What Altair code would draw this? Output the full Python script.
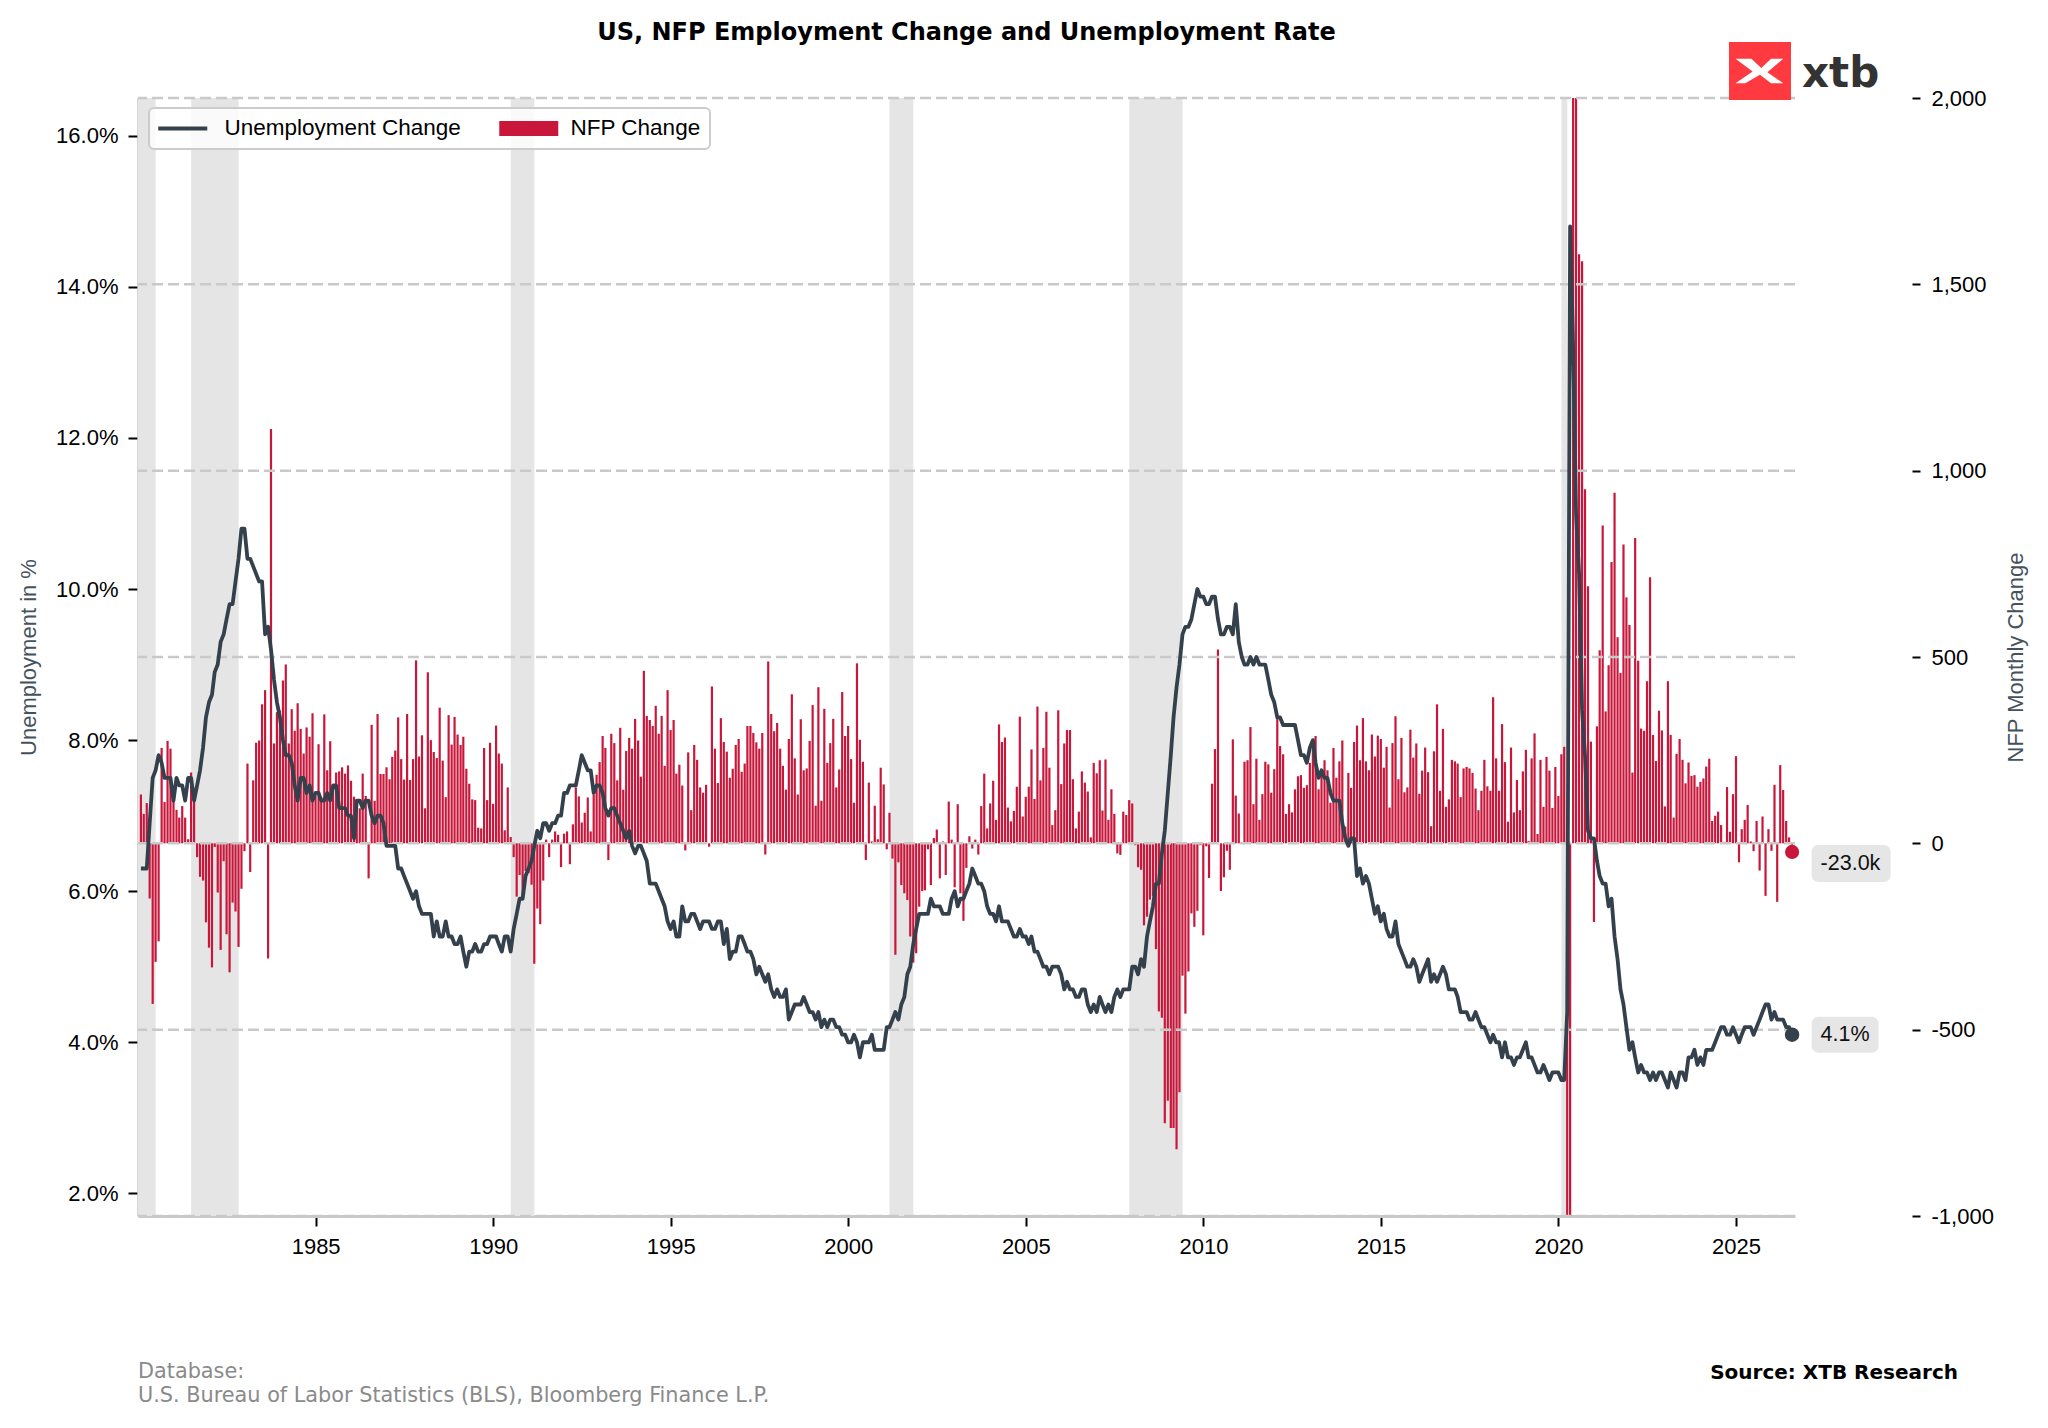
import altair as alt
import pandas as pd

# ---------------- data (monthly, Jan 1980 - Jul 2026) ----------------
# US unemployment rate, %
ur_1980s = [
    6.3, 6.3, 6.3, 6.9, 7.5, 7.6, 7.8, 7.7, 7.5, 7.5, 7.5, 7.2,
    7.5, 7.4, 7.4, 7.2, 7.5, 7.5, 7.2, 7.4, 7.6, 7.9, 8.3, 8.5,
    8.6, 8.9, 9.0, 9.3, 9.4, 9.6, 9.8, 9.8, 10.1, 10.4, 10.8, 10.8,
    10.4, 10.4, 10.3, 10.2, 10.1, 10.1, 9.4, 9.5, 9.2, 8.8, 8.5, 8.3,
    8.0, 7.8, 7.8, 7.7, 7.4, 7.2, 7.5, 7.5, 7.3, 7.4, 7.2, 7.3,
    7.3, 7.2, 7.2, 7.3, 7.2, 7.4, 7.4, 7.1, 7.1, 7.1, 7.0, 7.0,
    6.7, 7.2, 7.2, 7.1, 7.2, 7.2, 7.0, 6.9, 7.0, 7.0, 6.9, 6.6,
    6.6, 6.6, 6.6, 6.3, 6.3, 6.2, 6.1, 6.0, 5.9, 6.0, 5.8, 5.7,
    5.7, 5.7, 5.7, 5.4, 5.6, 5.4, 5.4, 5.6, 5.4, 5.4, 5.3, 5.3,
    5.4, 5.2, 5.0, 5.2, 5.2, 5.3, 5.2, 5.2, 5.3, 5.3, 5.4, 5.4,
]
ur_1990s = [
    5.4, 5.3, 5.2, 5.4, 5.4, 5.2, 5.5, 5.7, 5.9, 5.9, 6.2, 6.3,
    6.4, 6.6, 6.8, 6.7, 6.9, 6.9, 6.8, 6.9, 6.9, 7.0, 7.0, 7.3,
    7.3, 7.4, 7.4, 7.4, 7.6, 7.8, 7.7, 7.6, 7.6, 7.3, 7.4, 7.4,
    7.3, 7.1, 7.0, 7.1, 7.1, 7.0, 6.9, 6.8, 6.7, 6.8, 6.6, 6.5,
    6.6, 6.6, 6.5, 6.4, 6.1, 6.1, 6.1, 6.0, 5.9, 5.8, 5.6, 5.5,
    5.6, 5.4, 5.4, 5.8, 5.6, 5.6, 5.7, 5.7, 5.6, 5.5, 5.6, 5.6,
    5.6, 5.5, 5.5, 5.6, 5.6, 5.3, 5.5, 5.1, 5.2, 5.2, 5.4, 5.4,
    5.3, 5.2, 5.2, 5.1, 4.9, 5.0, 4.9, 4.8, 4.9, 4.7, 4.6, 4.7,
    4.6, 4.6, 4.7, 4.3, 4.4, 4.5, 4.5, 4.5, 4.6, 4.5, 4.4, 4.4,
    4.3, 4.4, 4.2, 4.3, 4.2, 4.3, 4.3, 4.2, 4.2, 4.1, 4.1, 4.0,
]
ur_2000s = [
    4.0, 4.1, 4.0, 3.8, 4.0, 4.0, 4.0, 4.1, 3.9, 3.9, 3.9, 3.9,
    4.2, 4.2, 4.3, 4.4, 4.3, 4.5, 4.6, 4.9, 5.0, 5.3, 5.5, 5.7,
    5.7, 5.7, 5.7, 5.9, 5.8, 5.8, 5.8, 5.7, 5.7, 5.7, 5.9, 6.0,
    5.8, 5.9, 5.9, 6.0, 6.1, 6.3, 6.2, 6.1, 6.1, 6.0, 5.8, 5.7,
    5.7, 5.6, 5.8, 5.6, 5.6, 5.6, 5.5, 5.4, 5.4, 5.5, 5.4, 5.4,
    5.3, 5.4, 5.2, 5.2, 5.1, 5.0, 5.0, 4.9, 5.0, 5.0, 5.0, 4.9,
    4.7, 4.8, 4.7, 4.7, 4.6, 4.6, 4.7, 4.7, 4.5, 4.4, 4.5, 4.4,
    4.6, 4.5, 4.4, 4.5, 4.4, 4.6, 4.7, 4.6, 4.7, 4.7, 4.7, 5.0,
    5.0, 4.9, 5.1, 5.0, 5.4, 5.6, 5.8, 6.1, 6.1, 6.5, 6.8, 7.3,
    7.8, 8.3, 8.7, 9.0, 9.4, 9.5, 9.5, 9.6, 9.8, 10.0, 9.9, 9.9,
]
ur_2010s = [
    9.8, 9.8, 9.9, 9.9, 9.6, 9.4, 9.4, 9.5, 9.5, 9.4, 9.8, 9.3,
    9.1, 9.0, 9.0, 9.1, 9.0, 9.1, 9.0, 9.0, 9.0, 8.8, 8.6, 8.5,
    8.3, 8.3, 8.2, 8.2, 8.2, 8.2, 8.2, 8.0, 7.8, 7.8, 7.7, 7.9,
    8.0, 7.7, 7.5, 7.6, 7.5, 7.5, 7.3, 7.2, 7.2, 7.2, 6.9, 6.7,
    6.6, 6.7, 6.7, 6.2, 6.3, 6.1, 6.2, 6.1, 5.9, 5.7, 5.8, 5.6,
    5.7, 5.5, 5.4, 5.4, 5.6, 5.3, 5.2, 5.1, 5.0, 5.0, 5.1, 5.0,
    4.8, 4.9, 5.0, 5.1, 4.8, 4.9, 4.8, 4.9, 5.0, 4.9, 4.7, 4.7,
    4.7, 4.6, 4.4, 4.4, 4.4, 4.3, 4.3, 4.4, 4.3, 4.2, 4.2, 4.1,
    4.0, 4.1, 4.0, 4.0, 3.8, 4.0, 3.8, 3.8, 3.7, 3.8, 3.8, 3.9,
    4.0, 3.8, 3.8, 3.7, 3.6, 3.6, 3.7, 3.6, 3.5, 3.6, 3.6, 3.6,
]
ur_2020s = [
    3.5, 3.5, 4.4, 14.8, 13.2, 11.0, 10.2, 8.4, 7.8, 6.8, 6.7, 6.7,
    6.4, 6.2, 6.1, 6.1, 5.8, 5.9, 5.4, 5.1, 4.7, 4.5, 4.2, 3.9,
    4.0, 3.8, 3.6, 3.7, 3.6, 3.6, 3.5, 3.6, 3.5, 3.6, 3.6, 3.5,
    3.4, 3.6, 3.5, 3.4, 3.6, 3.6, 3.5, 3.8, 3.8, 3.9, 3.7, 3.8,
    3.7, 3.9, 3.9, 3.9, 4.0, 4.1, 4.2, 4.2, 4.1, 4.1, 4.2, 4.1,
    4.0, 4.1, 4.2, 4.2, 4.2, 4.1, 4.2, 4.3, 4.4, 4.5, 4.5, 4.3,
    4.4, 4.3, 4.3, 4.3, 4.2, 4.2, 4.1,
]

# Non-farm payrolls, monthly change, thousands
nfp_1980s = [
    131, 79, 108, -148, -431, -318, -263, 256, 111, 275, 254, 138,
    90, 69, 100, 69, 11, 190, 112, -37, -90, -100, -212, -280,
    -333, -10, -132, -286, -48, -244, -346, -159, -183, -278, -122, -21,
    214, -77, 169, 270, 276, 373, 411, -309, 1112, 268, 352, 356,
    437, 480, 268, 360, 302, 376, 307, 241, 311, 286, 349, 127,
    266, 124, 346, 196, 274, 146, 190, 193, 204, 187, 209, 168,
    125, 107, 94, 187, 127, -94, 318, 114, 347, 186, 186, 204,
    172, 232, 249, 338, 226, 171, 347, 170, 226, 491, 233, 290,
    94, 459, 277, 245, 229, 364, 222, 124, 344, 265, 339, 292,
    264, 286, 200, 160, 118, 116, 42, 40, 256, 116, 270, 106,
]
nfp_1990s = [
    316, 241, 214, 35, 150, 17, -37, -143, -85, -148, -74, -80,
    -111, -323, -175, -217, -100, 10, -37, 10, 32, 23, -64, 26,
    32, -56, 51, 150, 126, 56, 82, 123, 32, 130, 184, 218,
    288, 256, -45, 294, 269, 169, 310, 144, 248, 283, 254, 334,
    276, 179, 463, 342, 331, 315, 369, 294, 342, 208, 411, 304,
    331, 187, 211, 155, -19, 244, 89, 264, 224, 150, 136, 157,
    -9, 421, 254, 162, 336, 272, 246, 176, 200, 264, 280, 192,
    214, 315, 315, 296, 271, 254, 296, -30, 488, 347, 301, 323,
    254, 208, 144, 280, 400, 228, 131, 333, 196, 201, 275, 371,
    101, 419, 114, 361, 216, 269, 334, 150, 198, 406, 288, 315,
]
nfp_2000s = [
    226, 109, 483, 278, 219, -45, 163, 5, 101, 11, 203, 158,
    -16, 82, -41, -299, -51, -112, -134, -152, -250, -320, -295, -170,
    -128, -126, -16, -112, 14, 37, -94, 5, -85, 112, 10, -118,
    105, -134, -208, -66, 19, -14, 10, -30, 100, 187, 40, 107,
    168, 63, 319, 272, 284, 96, 59, 87, 152, 340, 72, 125,
    152, 252, 119, 367, 169, 256, 353, 203, 49, 89, 357, 159,
    268, 304, 304, 172, 40, 85, 193, 163, 139, 16, 216, 188,
    223, 88, 225, 63, 145, 79, -27, -31, 85, 76, 116, 107,
    -5, -64, -71, -220, -197, -151, -141, -284, -451, -468, -751, -691,
    -764, -764, -821, -668, -355, -457, -344, -188, -224, -181, -5, -247,
]
nfp_2010s = [
    -8, -93, 160, 253, 520, -128, -91, -20, -71, 279, 128, 80,
    3, 219, 223, 312, 105, 227, 63, 132, 219, 212, 136, 199,
    336, 261, 239, 79, 105, 83, 145, 180, 183, 149, 156, 216,
    276, 288, 145, 183, 223, 196, 109, 256, 176, 220, 276, 45,
    189, 149, 272, 316, 223, 336, 220, 196, 292, 233, 289, 280,
    203, 259, 96, 269, 341, 172, 283, 137, 150, 305, 230, 268,
    133, 195, 257, 191, 46, 247, 373, 141, 307, 98, 118, 224,
    220, 214, 124, 201, 205, 201, 189, 147, 89, 141, 224, 153,
    141, 392, 228, 141, 320, 218, 58, 257, 83, 170, 89, 193,
    251, 6, 228, 295, 25, 224, 98, 232, 195, 95, 205, 127,
]
nfp_2020s = [
    239, 259, -1373, -20477, 2725, 4781, 1581, 1562, 950, 690, 273, -211,
    314, 518, 853, 354, 478, 755, 941, 553, 457, 802, 660, 586,
    190, 819, 490, 308, 302, 435, 714, 291, 221, 356, 303, 99,
    435, 291, 69, 240, 280, 224, 161, 217, 181, 183, 152, 165,
    174, 206, 227, 60, 74, 85, 49, 4, 151, 31, 132, 234,
    -51, 38, 63, 103, 5, -21, 60, -73, 72, -141, 38, -20,
    157, -157, 210, 143, 60, 16, -23,
]

# NBER recessions (shaded)
recession_start = ["1980-01-01", "1981-07-01", "1990-07-01", "2001-03-01", "2007-12-01", "2020-02-01"]
recession_end = ["1980-07-01", "1982-11-01", "1991-03-01", "2001-11-01", "2009-06-01", "2020-04-01"]

ur_ticks = [2, 4, 6, 8, 10, 12, 14, 16]
nfp_ticks = [-1000, -500, 0, 500, 1000, 1500, 2000]
year_ticks = [1985, 1990, 1995, 2000, 2005, 2010, 2015, 2020, 2025]
legend_labels = ["Unemployment Change", "NFP Change"]

TITLE = "US, NFP Employment Change and Unemployment Rate"
FOOT1 = "Database:"
FOOT2 = "U.S. Bureau of Labor Statistics (BLS), Bloomberg Finance L.P."
SOURCE = "Source: XTB Research"

# ---------------- styling ----------------
RED = "#c8173b"
LINE = "#34414d"
BAND = "#e5e5e5"
GRID = "#c9c9c9"
AXT = "#44525e"
FONT = "Liberation Sans"
BFONT = "DejaVu Sans"
W, H = 1657, 1118

ur = ur_1980s + ur_1990s + ur_2000s + ur_2010s + ur_2020s
nfp = nfp_1980s + nfp_1990s + nfp_2000s + nfp_2010s + nfp_2020s
n = min(len(ur), len(nfp))
ur, nfp = ur[:n], nfp[:n]
dates = [
    (pd.Timestamp(1980, 1, 1) + pd.DateOffset(months=i) + pd.offsets.MonthEnd(0)).strftime("%Y-%m-%dT00:00:00")
    for i in range(n)
]
df = pd.DataFrame({"date": dates, "ur": ur, "nfp": nfp})
last = df.iloc[[-1]].copy()
last["nfp_label"] = f"{nfp[-1]:.1f}k"
last["ur_label"] = f"{ur[-1]:.1f}%"

bands_df = pd.DataFrame({
    "start": [s + "T00:00:00" for s in recession_start],
    "end": [e + "T00:00:00" for e in recession_end],
})
grid_df = pd.DataFrame({"v": nfp_ticks})
legend_df = pd.DataFrame({"series": legend_labels})
one = pd.DataFrame({"k": [0]})

# ---------------- scales & axes ----------------
x_scale = alt.Scale(domain=[alt.DateTime(year=1980, month=1, date=1),
                            alt.DateTime(year=2026, month=8, date=30)], nice=False, padding=0)
x_axis = alt.Axis(values=[alt.DateTime(year=y, month=1, date=1) for y in year_ticks],
                  format="%Y", title=None, grid=False,
                  labelFont=FONT, labelFontSize=22, labelColor="#000000", labelPadding=10,
                  labelOverlap=False, labelFlush=False,
                  tickSize=10, tickWidth=2, tickColor="#000000",
                  domainColor="#c8c8c8", domainWidth=3)
X = alt.X("date:T", scale=x_scale, axis=x_axis)

ur_scale = alt.Scale(domain=[1.7, 16.5], nice=False, zero=False)
ur_axis = alt.Axis(orient="left", values=ur_ticks, grid=False,
                   labelExpr="format(datum.value, '.1f') + '%'",
                   labelFont=FONT, labelFontSize=22, labelColor="#000000", labelPadding=10,
                   tickSize=10, tickWidth=2, tickColor="#000000",
                   domainColor="#c8c8c8", domainWidth=2.5,
                   title="Unemployment in %", titleFont=FONT, titleFontSize=22,
                   titleFontWeight="normal", titleColor=AXT, titleAngle=270,
                   titleX=-109.5, titleY=H / 2, titleAlign="center", titleBaseline="middle")
Y_UR = alt.Y("ur:Q", scale=ur_scale, axis=ur_axis)

nfp_scale = alt.Scale(domain=[-1000, 2000], nice=False, zero=False)
nfp_axis = alt.Axis(orient="right", offset=117, values=nfp_ticks, grid=False, domain=False,
                    labelExpr="replace(format(datum.value, ','), '\u2212', '-')",
                    labelFont=FONT, labelFontSize=22, labelColor="#000000", labelPadding=11,
                    tickSize=8, tickWidth=2, tickColor="#000000",
                    title="NFP Monthly Change", titleFont=FONT, titleFontSize=22,
                    titleFontWeight="normal", titleColor=AXT, titleAngle=270,
                    titleX=103, titleY=H / 2, titleAlign="center", titleBaseline="middle")
Y_NFP = alt.Y("nfp:Q", scale=nfp_scale, axis=nfp_axis)

# ---------------- right-axis group (NFP) ----------------
bands = alt.Chart(bands_df).mark_rect(color=BAND).encode(
    x=alt.X("start:T", scale=x_scale, axis=x_axis), x2="end:T")
bars = alt.Chart(df).mark_bar(color=RED, width=2.2, clip=True).encode(x=X, y=Y_NFP)
grid = alt.Chart(grid_df).mark_rule(color=GRID, strokeDash=[11, 5], strokeWidth=2.5).encode(
    y=alt.Y("v:Q", scale=nfp_scale, axis=nfp_axis))
red_dot = alt.Chart(last).mark_circle(color=RED, size=200, opacity=1).encode(x=X, y=Y_NFP)
red_box = alt.Chart(last).mark_rect(color="#e6e6e6", cornerRadius=7,
                                    xOffset=19.5, x2Offset=98.5, yOffset=-7, y2Offset=30).encode(
    x=X, x2="date:T", y=Y_NFP, y2="nfp:Q")
red_text = alt.Chart(last).mark_text(align="left", baseline="middle", dx=28.5, dy=12,
                                     font=FONT, fontSize=21.5, color="#111111").encode(
    x=X, y=Y_NFP, text="nfp_label:N")
right = alt.layer(bands, bars, grid, red_dot, red_box, red_text)

# ---------------- left-axis group (unemployment) ----------------
line = alt.Chart(df).mark_line(color=LINE, strokeWidth=3.8, strokeJoin="round").encode(x=X, y=Y_UR)
dark_dot = alt.Chart(last).mark_circle(color=LINE, size=210, opacity=1).encode(x=X, y=Y_UR)
dark_box = alt.Chart(last).mark_rect(color="#e6e6e6", cornerRadius=7,
                                     xOffset=19.5, x2Offset=86.5, yOffset=-18, y2Offset=18).encode(
    x=X, x2="date:T", y=Y_UR, y2="ur:Q")
dark_text = alt.Chart(last).mark_text(align="left", baseline="middle", dx=28.5, dy=0,
                                      font=FONT, fontSize=21.5, color="#111111").encode(
    x=X, y=Y_UR, text="ur_label:N")

LINE_PATH = "M-2.45,-0.2H2.45V0.2H-2.45Z"
RECT_PATH = "M-2.95,-0.75H2.95V0.75H-2.95Z"
leg = alt.Legend(title=None, orient="none", legendX=11, legendY=10, direction="horizontal",
                 columns=2, symbolSize=400, symbolStrokeWidth=0, symbolOpacity=1,
                 symbolOffset=13.5, labelOffset=30.5, columnPadding=38, rowPadding=0,
                 labelLimit=0,
                 labelFont=FONT, labelFontSize=22.5, labelColor="#000000")
legend_layer = alt.Chart(legend_df).mark_point(filled=True, opacity=1, size=400).encode(
    color=alt.Color("series:N", scale=alt.Scale(domain=legend_labels, range=[LINE, RED]), legend=leg),
    shape=alt.Shape("series:N", scale=alt.Scale(domain=legend_labels, range=[LINE_PATH, RECT_PATH]), legend=leg),
).transform_filter("false")

# ---------------- annotations ----------------
title = alt.Chart(one).mark_text(text=TITLE, align="center", baseline="alphabetic",
                                 font=BFONT, fontSize=24, fontWeight="bold", color="#000000").encode(
    x=alt.value(W / 2), y=alt.value(-58))
foot1 = alt.Chart(one).mark_text(text=FOOT1, align="left", baseline="alphabetic",
                                 font=BFONT, fontSize=20.8, color="#8a8a8a").encode(
    x=alt.value(0), y=alt.value(1280))
foot2 = alt.Chart(one).mark_text(text=FOOT2, align="left", baseline="alphabetic",
                                 font=BFONT, fontSize=20.8, color="#8a8a8a").encode(
    x=alt.value(0), y=alt.value(1304))
source = alt.Chart(one).mark_text(text=SOURCE, align="right", baseline="alphabetic",
                                  font=BFONT, fontSize=20, fontWeight="bold", color="#000000").encode(
    x=alt.value(1820), y=alt.value(1281))
logo_box = alt.Chart(one).mark_rect(color="#fe3a40").encode(
    x=alt.value(1591), x2=alt.value(1653), y=alt.value(-56), y2=alt.value(2))
X_PATH = ("M-1,-0.5L-0.35,-0.5L0.05,-0.12L0.45,-0.5L0.95,-0.5L0.3,0.05L0.95,0.5"
          "L0.45,0.5L0.0,0.15L-0.6,0.5L-1,0.5L-0.3,0.02Z")
logo_x = alt.Chart(one).mark_point(shape=X_PATH, filled=True, color="#ffffff", opacity=1,
                                   size=2401, strokeWidth=0).encode(
    x=alt.value(1622), y=alt.value(-27))
logo_t = alt.Chart(one).mark_text(text="xtb", align="left", baseline="alphabetic",
                                  font=BFONT, fontSize=42, fontWeight="bold", color="#333333").encode(
    x=alt.value(1664), y=alt.value(-11))

left = alt.layer(line, dark_dot, dark_box, dark_text, legend_layer,
                 title, foot1, foot2, source, logo_box, logo_x, logo_t)

chart = alt.layer(right, left).resolve_scale(y="independent").properties(
    width=W, height=H,
    autosize=alt.AutoSizeParams(type="none"),
    padding={"left": 130, "top": 90, "right": 245, "bottom": 204},
    background="#ffffff",
).configure_view(stroke=None).configure_legend(
    strokeColor="#cccccc", strokeWidth=2, fillColor="rgba(255,255,255,0.8)",
    cornerRadius=5, padding=9,
)

chart.save("out.html", embed_options={"renderer": "svg", "actions": False})
